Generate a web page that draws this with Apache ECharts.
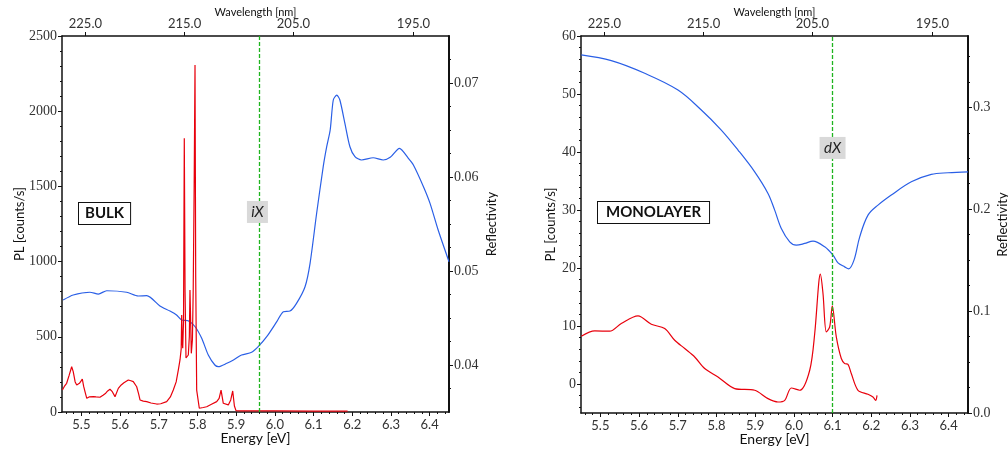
<!DOCTYPE html>
<html>
<head>
<meta charset="utf-8">
<script src="https://cdn.jsdelivr.net/npm/echarts@6/dist/echarts.min.js"></script>
<style>
  html, body { margin: 0; padding: 0; background: #fff; }
  #chart { width: 1008px; height: 453px; }
</style>
</head>
<body>
<div id="chart"></div>
<script>
// ---- Bulk: photoluminescence (counts/s) vs photon energy (eV)
const bulkPlE = [5.451, 5.456, 5.462, 5.468, 5.475, 5.479, 5.484, 5.488, 5.492, 5.495, 5.499, 5.5025, 5.506, 5.5094, 5.514,
  5.520, 5.525, 5.531, 5.538, 5.548, 5.556, 5.563, 5.568, 5.574, 5.580, 5.587, 5.5955, 5.603, 5.610, 5.6213, 5.628, 5.6342,
  5.643, 5.648, 5.6516, 5.660, 5.6689, 5.680, 5.6947, 5.705, 5.7205, 5.730, 5.7376, 5.745, 5.7505, 5.7549, 5.758, 5.7593,
  5.7605, 5.7619, 5.764, 5.766, 5.768, 5.7704, 5.7764, 5.779, 5.7807, 5.7825, 5.7841, 5.787, 5.789, 5.7915, 5.7937, 5.7955,
  5.798, 5.8048, 5.815, 5.8239, 5.835, 5.8497, 5.856, 5.861, 5.8668, 5.8797, 5.886, 5.8911, 5.8955, 5.8996, 5.910, 6.000,
  6.100, 6.188];
const bulkPl = [146, 170, 191, 240, 301, 268, 200, 180, 185, 191, 205, 219, 170, 135, 91,
  100, 95, 102, 100, 98, 112, 125, 140, 151, 135, 102, 157, 180, 195, 213, 208, 202,
  168, 120, 80, 72, 69, 60, 53, 55, 69, 100, 146, 200, 279, 346, 420, 645,
  480, 424, 600, 1820, 800, 359, 379, 500, 811, 600, 390, 480, 800, 1500, 2307, 900,
  146, 25, 30, 35, 50, 69, 90, 146, 58, 47, 80, 140, 40, 9, 7, 7,
  6, 6];

// ---- Bulk: reflectivity vs photon energy (eV)
const bulkReflE = [5.453, 5.479, 5.522, 5.544, 5.5655, 5.617, 5.647, 5.669, 5.703, 5.729, 5.746, 5.759, 5.776, 5.794,
  5.811, 5.828, 5.845, 5.854, 5.876, 5.893, 5.914, 5.940, 5.957, 5.979, 6.005, 6.022, 6.039, 6.056, 6.078, 6.091,
  6.108, 6.125, 6.134, 6.143, 6.151, 6.160, 6.168, 6.181, 6.194, 6.207, 6.224, 6.254, 6.280, 6.298, 6.322, 6.345,
  6.358, 6.384, 6.401, 6.422, 6.450];
const bulkRefl = [0.04691, 0.04745, 0.04774, 0.04755, 0.04790, 0.04774, 0.04734, 0.04737, 0.04628, 0.04574, 0.04532,
  0.04479, 0.04471, 0.04407, 0.04284, 0.04106, 0.04000, 0.03982, 0.04018, 0.04053, 0.04106, 0.04135, 0.04195, 0.04301,
  0.04461, 0.04567, 0.04574, 0.04656, 0.04833, 0.05082, 0.05614, 0.06110, 0.06322, 0.06500, 0.06819, 0.06872, 0.06819,
  0.06571, 0.06322, 0.06216, 0.06181, 0.06205, 0.06181, 0.06209, 0.06305, 0.06199, 0.06128, 0.05897, 0.05720, 0.05436,
  0.05099];

// ---- Monolayer: photoluminescence (counts/s) vs photon energy (eV)
const monoPlE = [5.4508, 5.4854, 5.5242, 5.5541, 5.5973, 5.6317, 5.6663, 5.6921, 5.718, 5.7438, 5.7696, 5.804, 5.8472,
  5.8988, 5.9332, 5.959, 5.9764, 5.9934, 6.0151, 6.041, 6.0539, 6.0642, 6.0684, 6.0753, 6.0839, 6.0926, 6.0994, 6.1097,
  6.1226, 6.1314, 6.1399, 6.1484, 6.1657, 6.1916, 6.2044, 6.2114, 6.2149];
const monoPl = [8.24, 9.15, 9.10, 10.43, 11.74, 10.31, 9.56, 7.55, 6.11, 4.66, 2.66, 1.21, -0.79,
  -1.08, -2.52, -3.10, -2.81, -0.69, -1.08, 2.37, 8.70, 17.33, 18.93, 15.60, 8.98, 9.84, 13.46, 8.11,
  4.39, 3.52, 3.40, 1.80, -1.08, -1.77, -2.24, -2.81, -1.95];

// ---- Monolayer: reflectivity vs photon energy (eV)
const monoReflE = [5.4508, 5.5283, 5.6146, 5.7006, 5.7609, 5.8125, 5.8557, 5.8988, 5.9332, 5.9505, 5.9676, 5.9893,
  6.0063, 6.028, 6.0495, 6.0797, 6.1012, 6.1141, 6.1314, 6.1417, 6.1554, 6.1702, 6.1916, 6.2174, 6.2518, 6.3035,
  6.3552, 6.3983, 6.45];
const monoRefl = [0.3514, 0.3458, 0.3334, 0.3170, 0.2974, 0.2777, 0.2581, 0.2367, 0.2155, 0.1991, 0.1811, 0.1680,
  0.1647, 0.1664, 0.1687, 0.1631, 0.1549, 0.1474, 0.1434, 0.1415, 0.1500, 0.1729, 0.1942, 0.2040, 0.2139, 0.2269,
  0.2342, 0.2358, 0.2367];

// ---- Exciton markers (eV) and their labels
const bulkMarker = { energy: 5.955, labelAt: 1330, text: 'iX' };
const monoMarker = { energy: 6.1, labelAt: 40.7, text: 'dX' };

// ---- Tick labels
const energyTicks = [5.5, 5.6, 5.7, 5.8, 5.9, 6.0, 6.1, 6.2, 6.3, 6.4];
const wavelengthTicks = [225, 215, 205, 195];
const bulkPlTicks = [0, 500, 1000, 1500, 2000, 2500];
const bulkReflTicks = [0.04, 0.05, 0.06, 0.07];
const monoPlTicks = [0, 10, 20, 30, 40, 50, 60];
const monoReflTicks = [0, 0.1, 0.2, 0.3];

const HC = 1239.84; // eV·nm
const zip = (xs, ys) => xs.map((x, i) => [x, ys[i]]);
const steps = (a, b, s) => {
  const out = [];
  for (let k = 0; a + k * s <= b + 1e-9; k++) out.push(+(a + k * s).toFixed(6));
  return out;
};

const RED = '#e8000c';
const BLUE = '#2a5fe6';
const GREEN = '#1fb41f';
const INK = '#111';
const SANS = 'Lato';
const SERIF = 'Liberation Serif';

const E_MIN = 5.45, E_MAX = 6.45;
const wavelengthE = wavelengthTicks.map(w => HC / w);

function bottomAxis(grid) {
  return [{
    gridIndex: grid, type: 'value', position: 'bottom', min: E_MIN, max: E_MAX,
    axisLine: { onZero: false, lineStyle: { color: INK, width: 1.5 } },
    axisTick: { customValues: energyTicks, length: 4, lineStyle: { color: INK, width: 1 } },
    axisLabel: { customValues: energyTicks, formatter: v => v.toFixed(1), margin: 6,
      fontFamily: SANS, fontSize: 13, color: '#333' },
    splitLine: { show: false },
    name: 'Energy [eV]', nameLocation: 'middle', nameGap: 19, nameMoveOverlap: false,
    nameTextStyle: { fontFamily: SANS, fontSize: 14, color: INK }
  }, {
    gridIndex: grid, type: 'value', position: 'bottom', min: E_MIN, max: E_MAX,
    axisLine: { show: false, onZero: false }, axisLabel: { show: false }, splitLine: { show: false },
    axisTick: { customValues: steps(5.46, 6.44, 0.02), length: 2, lineStyle: { color: INK, width: 1 } }
  }, {
    gridIndex: grid, type: 'value', position: 'top', min: E_MIN, max: E_MAX,
    axisLine: { onZero: false, lineStyle: { color: INK, width: 1.5 } },
    axisTick: { customValues: wavelengthE, length: 4, lineStyle: { color: INK, width: 1 } },
    axisLabel: { customValues: wavelengthE, formatter: v => (HC / v).toFixed(1), margin: 6,
      fontFamily: SANS, fontSize: 13, color: '#333' },
    splitLine: { show: false },
    name: 'Wavelength [nm]', nameLocation: 'middle', nameGap: 18, nameMoveOverlap: false,
    nameTextStyle: { fontFamily: SANS, fontSize: 11, color: INK }
  }];
}

function yAxis(grid, pos, min, max, labels, fmt, minor, name, gap, lw) {
  return [{
    gridIndex: grid, type: 'value', position: pos, min, max,
    axisLine: { show: true, onZero: false, lineStyle: { color: INK, width: lw } },
    axisTick: { show: true, customValues: labels, length: 4, lineStyle: { color: INK, width: 1 } },
    axisLabel: { customValues: labels, formatter: fmt, margin: 5,
      fontFamily: SERIF, fontSize: 14, color: '#333' },
    splitLine: { show: false },
    name, nameLocation: 'middle', nameGap: gap, nameRotate: 90, nameMoveOverlap: false,
    nameTextStyle: { fontFamily: SANS, fontSize: 13, color: INK }
  }, {
    gridIndex: grid, type: 'value', position: pos, min, max,
    axisLine: { show: false, onZero: false }, axisLabel: { show: false }, splitLine: { show: false },
    axisTick: { show: true, customValues: minor, length: 2, lineStyle: { color: INK, width: 1 } }
  }];
}

const xAxes = [...bottomAxis(0), ...bottomAxis(1)];  // 0..2 bulk, 3..5 monolayer
const yAxes = [
  ...yAxis(0, 'left', 0, 2500, bulkPlTicks, v => String(v), steps(100, 2400, 100), 'PL [counts/s]', 36, 1.5),
  ...yAxis(0, 'right', 0.035, 0.075, bulkReflTicks, v => v.toFixed(2), steps(0.0375, 0.0725, 0.0025), 'Reflectivity', 36, 2),
  ...yAxis(1, 'left', -5, 60, monoPlTicks, v => String(v), steps(-4, 58, 2), 'PL [counts/s]', 24, 1.5),
  ...yAxis(1, 'right', 0, 0.37, monoReflTicks, v => v.toFixed(1), steps(0.025, 0.35, 0.025), 'Reflectivity', 28, 2)
];
// y indices: 0/1 bulk PL, 2/3 bulk refl, 4/5 mono PL, 6/7 mono refl

function marker(m, w) {
  return {
    markLine: {
      silent: true, symbol: 'none', animation: false,
      label: { show: false },
      lineStyle: { type: [4, 2], color: GREEN, width: 1.3 },
      data: [{ xAxis: m.energy }]
    },
    markPoint: {
      silent: true, animation: false,
      data: [{
        coord: [m.energy, m.labelAt], symbol: 'rect', symbolSize: [w, 22],
        itemStyle: { color: '#d9d9d9' },
        label: { show: true, formatter: m.text, fontFamily: SANS, fontStyle: 'italic', fontSize: 15, color: '#222' }
      }]
    }
  };
}

const line = (color, smooth) => ({
  type: 'line', showSymbol: false, symbol: 'none', smooth: smooth,
  lineStyle: { color, width: 1.2 }, itemStyle: { color }
});

const option = {
  animation: false,
  backgroundColor: '#fff',
  grid: [
    { left: 62, top: 36, width: 387, height: 376, outerBoundsMode: 'none' },
    { left: 581, top: 36, width: 387, height: 377, outerBoundsMode: 'none' }
  ],
  xAxis: xAxes,
  yAxis: yAxes,
  graphic: [
    { type: 'text', left: 78, top: 202, z: 100,
      style: { text: 'BULK', font: 'bold 15px Lato', fill: INK, backgroundColor: '#fff',
        borderColor: INK, borderWidth: 1, padding: [3, 6] } },
    { type: 'text', left: 597, top: 201, z: 100,
      style: { text: 'MONOLAYER', font: 'bold 15px Lato', fill: INK, backgroundColor: '#fff',
        borderColor: INK, borderWidth: 1, padding: [3, 8] } }
  ],
  series: [
    Object.assign(line(BLUE, 0.25), { xAxisIndex: 0, yAxisIndex: 2, data: zip(bulkReflE, bulkRefl) }),
    Object.assign(line(RED, false), { xAxisIndex: 0, yAxisIndex: 0, data: zip(bulkPlE, bulkPl) }, marker(bulkMarker, 21)),
    Object.assign(line(BLUE, 0.35), { xAxisIndex: 3, yAxisIndex: 6, data: zip(monoReflE, monoRefl) }),
    Object.assign(line(RED, 0.3), { xAxisIndex: 3, yAxisIndex: 4, data: zip(monoPlE, monoPl) }, marker(monoMarker, 26))
  ]
};

const chart = echarts.init(document.getElementById('chart'), null, { renderer: 'canvas' });
chart.setOption(option);
</script>
</body>
</html>
